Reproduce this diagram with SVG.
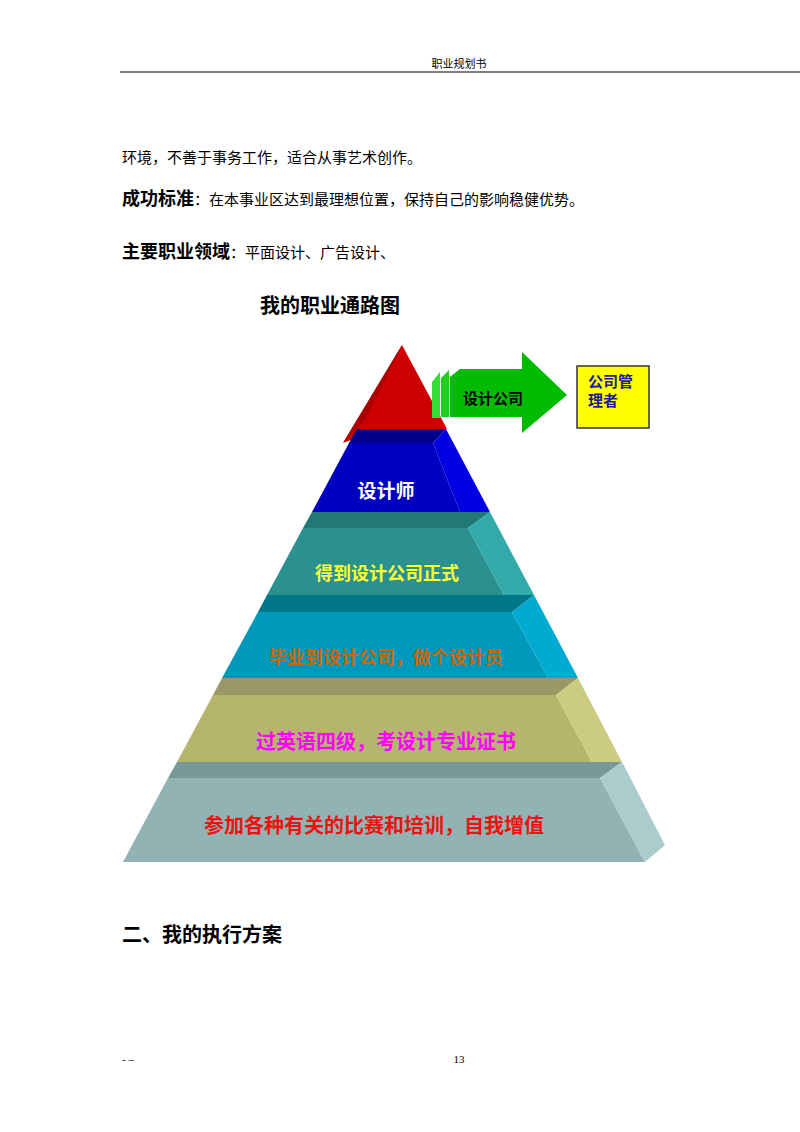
<svg xmlns="http://www.w3.org/2000/svg" width="800" height="1132" viewBox="0 0 800 1132">
<style>
text{font-family:"Liberation Serif","Noto Sans CJK SC",serif;fill:#000}
.b{font-family:"Noto Sans CJK SC",sans-serif;font-weight:bold}
.lbl{font-family:"Noto Sans CJK SC",sans-serif;font-weight:bold;text-anchor:middle}
</style>
<rect width="800" height="1132" fill="#fff"/>
<text x="459" y="68" font-size="11" text-anchor="middle">职业规划书</text>
<line x1="120" y1="72" x2="800" y2="72" stroke="#000" stroke-width="1"/>
<text x="122" y="163" font-size="15">环境，不善于事务工作，适合从事艺术创作。</text>
<text x="122" y="205" font-size="15"><tspan class="b" font-size="18">成功标准</tspan>：在本事业区达到最理想位置，保持自己的影响稳健优势。</text>
<text x="122" y="258" font-size="15"><tspan class="b" font-size="18">主要职业领域</tspan>：平面设计、广告设计、</text>
<text x="260" y="313" font-size="20" class="b">我的职业通路图</text>

<g id="pyramid">
<g id="red"><polygon points="402,345 447,429 380,429 343,443" fill="#CC0000"/><polygon points="402,345 343,443 365,420 395,360" fill="#AA0000"/></g>
<g id="blue"><polygon points="357,429 446,429 433,443 349,443" fill="#00008B"/><polygon points="349,443 433,443 460,512 312,512" fill="#0000C0"/><polygon points="446,429 490,512 460,512 433,443" fill="#0000E0"/></g>
<g id="teal"><polygon points="312,512 490,512 468,528 303,528" fill="#227777"/><polygon points="303,528 468,528 504,595 267,595" fill="#2A9090"/><polygon points="490,512 534,595 504,595 468,528" fill="#33AAAA"/></g>
<g id="cyan"><polygon points="267,595 534,595 512,612 258,612" fill="#007788"/><polygon points="258,612 512,612 548,678 222,678" fill="#0099BB"/><polygon points="534,595 578,678 548,678 512,612" fill="#00AAD0"/></g>
<g id="olive"><polygon points="222,678 578,678 556,695 213,695" fill="#999966"/><polygon points="213,695 556,695 592,762 177,762" fill="#B5B56E"/><polygon points="578,678 622,762 592,762 556,695" fill="#CCCC80"/></g>
<g id="grey"><polygon points="177,762 622,762 600,778 168,778" fill="#779999"/><polygon points="168,778 600,778 645,862 123,862" fill="#91B3B3"/><polygon points="622,762 665,845 645,862 600,778" fill="#AACCCC"/></g>
<text x="386" y="498" font-size="19" class="lbl" style="fill:#fff">设计师</text>
<text x="387" y="580" font-size="18" class="lbl" style="fill:#FFFF33">得到设计公司正式</text>
<text x="386" y="664" font-size="18" class="lbl" style="fill:#CC6600">毕业到设计公司，做个设计员</text>
<text x="386" y="749" font-size="20" class="lbl" style="fill:#FF00FF">过英语四级，考设计专业证书</text>
<text x="374" y="833" font-size="20" class="lbl" style="fill:#EE1111">参加各种有关的比赛和培训，自我增值</text>
</g>

<g id="arrow">
<polygon points="432,382 440,372 440,418 432,418" fill="#33DD33"/>
<polygon points="441,378 449,370 449,417 441,417" fill="#22CC22"/>
<polygon points="450,377 460,369 522,369 522,352 567,395 522,433 522,417 450,417" fill="#00BB00"/>
<text x="493" y="404" font-size="15" class="lbl">设计公司</text>
</g>
<g id="manager">
<rect x="577" y="366" width="72" height="62" fill="#FFFF00" stroke="#333" stroke-width="1.5"/>
<text x="588" y="387" font-size="15" class="b" style="fill:#1a1a99">公司管</text>
<text x="588" y="406" font-size="15" class="b" style="fill:#1a1a99">理者</text>
</g>

<text x="122" y="942" font-size="20" class="b">二、我的执行方案</text>
<text x="122" y="1063" font-size="11">- –</text>
<text x="459" y="1063" font-size="11" text-anchor="middle">13</text>
</svg>
